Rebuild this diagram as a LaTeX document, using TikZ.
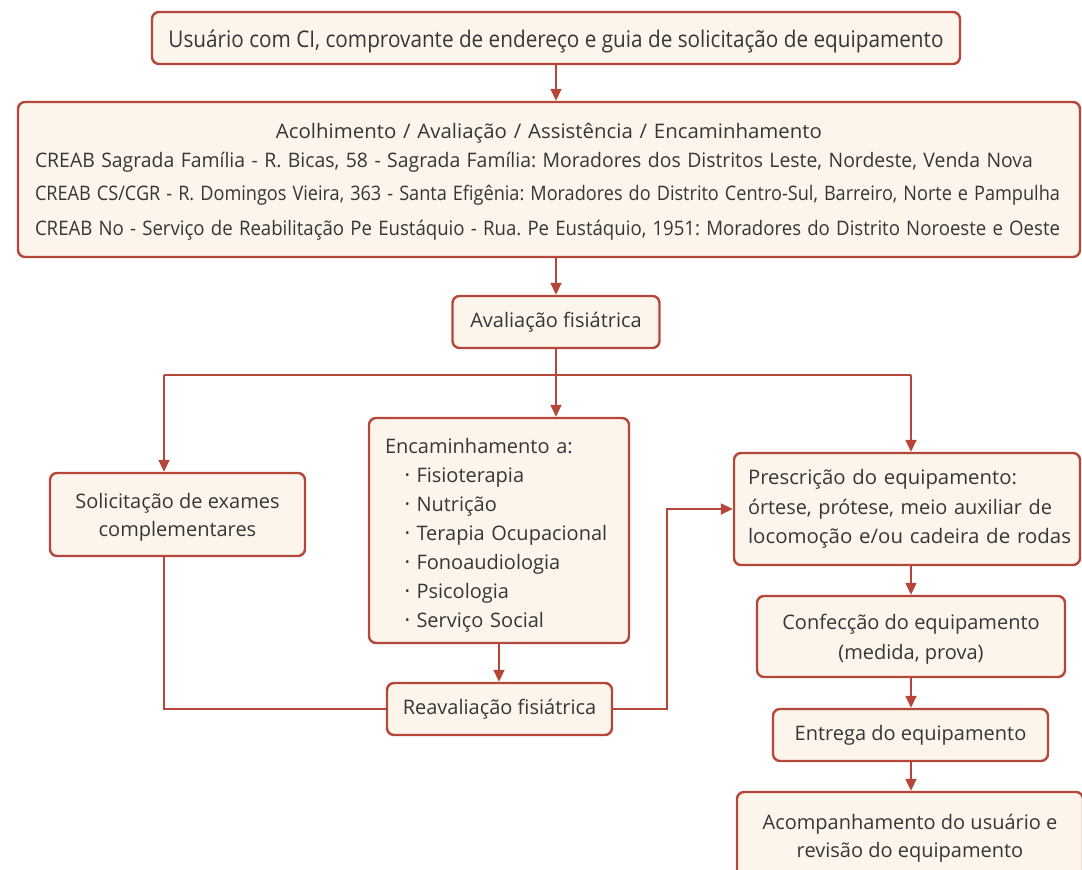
\documentclass[tikz,border=0pt]{standalone}
\usepackage{fontspec}
\setmainfont{Open Sans}
\frenchspacing
\usetikzlibrary{arrows.meta}
\definecolor{rust}{HTML}{B5473A}
\definecolor{cream}{HTML}{FDF4EC}
\definecolor{ink}{HTML}{363636}
\newcommand{\fitline}[2]{\resizebox{#1}{\height}{#2}}
\newcommand{\bul}{\hspace*{20pt}\raisebox{3pt}{\scalebox{0.6}{\textbullet}}\hspace{7pt}}
\tikzset{
box/.style={rectangle, rounded corners=7pt, draw=rust, line width=2.4pt, fill=cream,
  text=ink, inner sep=0pt, align=center, font=\fontsize{20}{28}\selectfont},
multi/.style={box, text depth=0pt},
link/.style={draw=rust, line width=1.8pt},
flow/.style={link, -{Triangle[length=12pt,width=11pt]}}
}

\begin{document}
\begin{tikzpicture}[x=1pt,y=-1pt]
\useasboundingbox (0,0) rectangle (1082,870);
\clip (0,0) rectangle (1082,870);

% boxes
\node[box, minimum width=808pt, minimum height=52pt, text height=22pt, text depth=4pt,
  font=\fontsize{23}{28}\selectfont] (user) at (556,38)
  {\fitline{775pt}{Usuário com CI, comprovante de endereço e guia de solicitação de equipamento}};
\node[box, align=left, text width=1028pt, inner xsep=17pt, minimum height=155pt] (acol) at (549,179.5)
  {\makebox[\linewidth]{\rule{0pt}{20pt}\fitline{546pt}{Acolhimento / Avaliação / Assistência / Encaminhamento}}\\[1pt]
   \fitline{998pt}{CREAB Sagrada Família - R. Bicas, 58 - Sagrada Família: Moradores dos Distritos Leste, Nordeste, Venda Nova}\\[5pt]
   \fitline{1025pt}{CREAB CS/CGR - R. Domingos Vieira, 363 - Santa Efigênia: Moradores do Distrito Centro-Sul, Barreiro, Norte e Pampulha}\\[7pt]
   \fitline{1025pt}{CREAB No - Serviço de Reabilitação Pe Eustáquio - Rua. Pe Eustáquio, 1951: Moradores do Distrito Noroeste e Oeste}};
\node[box, minimum width=207pt, minimum height=52pt] (aval) at (556,322) {Avaliação fisiátrica};
\node[multi, minimum width=255pt, minimum height=83pt] (sol) at (177.5,514.5)
  {Solicitação de exames\\complementares};
\node[box, align=left, text width=228pt, inner xsep=16pt, minimum height=225pt,
  font=\fontsize{20}{29}\selectfont] (enc) at (499,530.5)
  {\rule{0pt}{25pt}Encaminhamento a:\\\bul Fisioterapia\\\bul Nutrição\\\bul Terapia Ocupacional\\
   \bul Fonoaudiologia\\\bul Psicologia\\\bul Serviço Social};
\node[box, minimum width=225pt, minimum height=52pt] (reav) at (499.5,709) {Reavaliação fisiátrica};
\node[box, align=left, text width=318pt, inner xsep=14pt, minimum height=112pt,
  font=\fontsize{20}{29.5}\selectfont] (pres) at (907,509)
  {\fitline{269pt}{Prescrição do equipamento:}\\\fitline{304pt}{órtese, prótese, meio auxiliar de}\\
   \fitline{323pt}{locomoção e/ou cadeira de rodas}};
\node[multi, minimum width=308pt, minimum height=81pt, font=\fontsize{20}{30}\selectfont] (conf) at (911,636.5)
  {Confecção do equipamento\\(medida, prova)};
\node[box, minimum width=275pt, minimum height=52pt] (ent) at (910.5,735) {Entrega do equipamento};
\node[multi, minimum width=346pt, minimum height=88pt] (acomp) at (910,836)
  {Acompanhamento do usuário e\\revisão do equipamento};

% turn points
\coordinate (split) at (556,375);
\coordinate (tl) at (164,375);
\coordinate (tr) at (911,375);
\coordinate (bend) at (667,509);

% connectors
\draw[flow] (user.south) -- (user.south |- acol.north);
\draw[flow] (aval |- acol.south) -- (aval.north);
\draw[link] (aval.south) -- (split);
\draw[link] (tl) -- (tr);
\draw[flow] (tl) -- (tl |- sol.north);
\draw[flow] (split) -- (split |- enc.north);
\draw[flow] (tr) -- (tr |- pres.north);
\draw[link] (tl |- sol.south) |- (reav.west);
\draw[flow] (enc.south) -- (enc.south |- reav.north);
\draw[flow] (reav.east) -| (bend) -- (pres.west);
\draw[flow] (tr |- pres.south) -- (tr |- conf.north);
\draw[flow] (tr |- conf.south) -- (tr |- ent.north);
\draw[flow] (tr |- ent.south) -- (tr |- acomp.north);

\end{tikzpicture}
\end{document}
